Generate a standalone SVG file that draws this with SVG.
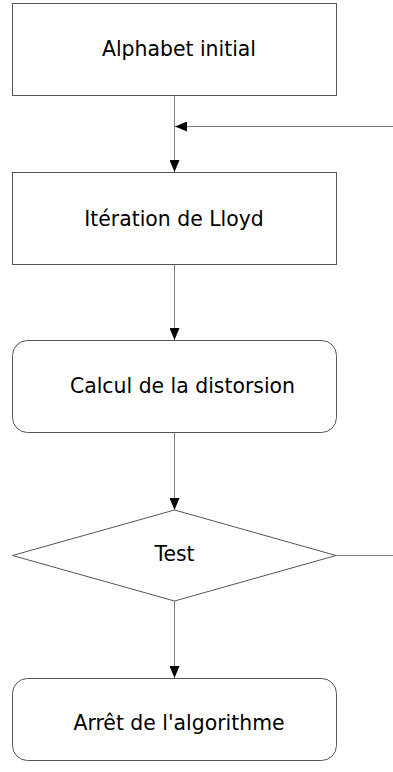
<svg xmlns="http://www.w3.org/2000/svg" width="393" height="772" viewBox="0 0 393 772">
<defs>
<marker id="arr" markerWidth="12" markerHeight="10" refX="12" refY="5" orient="auto" markerUnits="userSpaceOnUse">
<path d="M0,0 L12,5 L0,10 Z" fill="#000"/>
</marker>
<style>
.box{fill:#fff;stroke:#555;stroke-width:1}
.lbl{font-family:"DejaVu Sans",sans-serif;font-size:20.4px;fill:#000;text-anchor:middle}
.con{fill:none;stroke:#808080;stroke-width:1}
</style>
</defs>
<rect width="393" height="772" fill="#fff"/>
<g id="connectors">
<path class="con" d="M174.5,95.5 V172" marker-end="url(#arr)"/>
<path class="con" d="M393,126.5 H175" marker-end="url(#arr)"/>
<path class="con" d="M174.5,264.5 V340" marker-end="url(#arr)"/>
<path class="con" d="M174.5,433 V510" marker-end="url(#arr)"/>
<path class="con" d="M174.5,601 V678" marker-end="url(#arr)"/>
<path class="con" d="M336,555.5 H393"/>
</g>
<g id="n1">
<rect class="box" x="12.5" y="3.5" width="324" height="92"/>
<text class="lbl" x="179" y="56">Alphabet initial</text>
</g>
<g id="n2">
<rect class="box" x="12.5" y="172.5" width="324" height="92"/>
<text class="lbl" x="174" y="226">Itération de Lloyd</text>
</g>
<g id="n3">
<rect class="box" x="12.5" y="340.5" width="324" height="92" rx="15" ry="15"/>
<text class="lbl" x="182.5" y="393">Calcul de la distorsion</text>
</g>
<g id="n4">
<polygon class="box" points="174.5,510 336,555.5 174.5,601 12.5,555.5"/>
<text class="lbl" x="174.5" y="561">Test</text>
</g>
<g id="n5">
<rect class="box" x="12.5" y="678.5" width="324" height="82" rx="15" ry="15"/>
<text class="lbl" x="179" y="730">Arrêt de l'algorithme</text>
</g>
</svg>
